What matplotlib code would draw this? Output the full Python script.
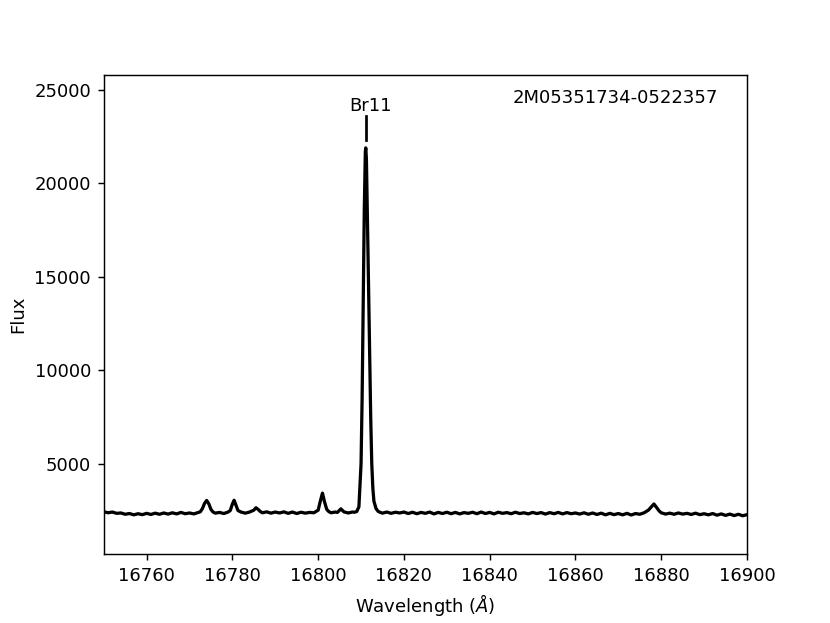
import matplotlib
matplotlib.use("Agg")
import matplotlib.pyplot as plt

wavelength = [
    16750, 16751, 16752, 16753, 16754, 16755, 16756, 16757, 16758, 16759,
    16760, 16761, 16762, 16763, 16764, 16765, 16766, 16767, 16768, 16769,
    16770, 16771, 16772, 16772.5, 16773, 16773.5, 16774, 16774.5, 16775, 16775.5,
    16776, 16777, 16778, 16779, 16779.5, 16780, 16780.4, 16780.8, 16781.3, 16782,
    16783, 16784, 16785, 16785.5, 16786, 16786.5, 16787, 16788, 16789, 16790,
    16791, 16792, 16793, 16794, 16795, 16796, 16797, 16798, 16799, 16800,
    16800.5, 16801, 16801.5, 16802, 16802.5, 16803, 16804, 16804.5, 16805.3, 16806,
    16807, 16808, 16808.5, 16809.0, 16809.5, 16810.0, 16810.25, 16810.5, 16810.75, 16811.0,
    16811.1, 16811.25, 16811.5, 16811.75, 16812.0, 16812.25, 16812.5, 16812.75, 16813.0, 16813.5,
    16814.0, 16814.5, 16815, 16816, 16817, 16818, 16819, 16820, 16821, 16822,
    16823, 16824, 16825, 16826, 16827, 16828, 16829, 16830, 16831, 16832,
    16833, 16834, 16835, 16836, 16837, 16838, 16839, 16840, 16841, 16842,
    16843, 16844, 16845, 16846, 16847, 16848, 16849, 16850, 16851, 16852,
    16853, 16854, 16855, 16856, 16857, 16858, 16859, 16860, 16861, 16862,
    16863, 16864, 16865, 16866, 16867, 16868, 16869, 16870, 16871, 16872,
    16873, 16874, 16875, 16876, 16877, 16877.8, 16878.3, 16878.8, 16879.5, 16880,
    16881, 16882, 16883, 16884, 16885, 16886, 16887, 16888, 16889, 16890,
    16891, 16892, 16893, 16894, 16895, 16896, 16897, 16898, 16899, 16900,
]

flux = [
    2440, 2380, 2420, 2350, 2370, 2300, 2340, 2270, 2330, 2280,
    2350, 2290, 2360, 2300, 2370, 2310, 2380, 2320, 2400, 2330,
    2370, 2320, 2390, 2430, 2600, 2880, 3040, 2860, 2560, 2420,
    2360, 2400, 2340, 2420, 2500, 2850, 3050, 2800, 2500, 2420,
    2360, 2420, 2520, 2650, 2560, 2450, 2380, 2430, 2360, 2420,
    2370, 2430, 2350, 2420, 2340, 2410, 2360, 2400, 2380, 2520,
    3000, 3430, 2950, 2560, 2440, 2380, 2420, 2400, 2590, 2430,
    2370, 2420, 2410, 2450, 2700, 5000, 8500, 13500, 18500, 21700,
    21900, 21300, 18000, 14500, 11000, 7500, 5000, 3700, 3000, 2600,
    2450, 2400, 2360, 2420, 2350, 2410, 2370, 2420, 2340, 2410,
    2330, 2400, 2350, 2420, 2320, 2400, 2340, 2410, 2330, 2400,
    2320, 2390, 2350, 2410, 2330, 2420, 2340, 2400, 2320, 2410,
    2350, 2390, 2330, 2410, 2340, 2380, 2320, 2400, 2340, 2390,
    2310, 2390, 2330, 2400, 2320, 2390, 2330, 2370, 2310, 2380,
    2300, 2370, 2290, 2360, 2270, 2350, 2280, 2340, 2270, 2350,
    2260, 2340, 2300, 2380, 2520, 2720, 2850, 2700, 2480, 2380,
    2310, 2360, 2300, 2370, 2310, 2350, 2290, 2360, 2280, 2330,
    2270, 2340, 2250, 2320, 2240, 2310, 2230, 2300, 2220, 2280,
]

line_name = "Br11"
line_center = 16811.1
star_id = "2M05351734-0522357"

fig, ax = plt.subplots(figsize=(830 / 130, 623 / 130), dpi=130)
ax.plot(wavelength, flux, color="black", lw=1.8)
ax.plot([line_center, line_center], [22300, 23600], color="black", lw=1.5)
ax.text(line_center + 1.0, 23850, line_name, ha="center", va="baseline", fontsize=10)
ax.text(16845.3, 24320, star_id, ha="left", va="baseline", fontsize=10)

ax.set_xlim(16750, 16900)
ax.set_ylim(150, 25810)
ax.set_xlabel("Wavelength ($\\AA$)")
ax.set_ylabel("Flux")

fig.savefig("out.png", dpi=130)
